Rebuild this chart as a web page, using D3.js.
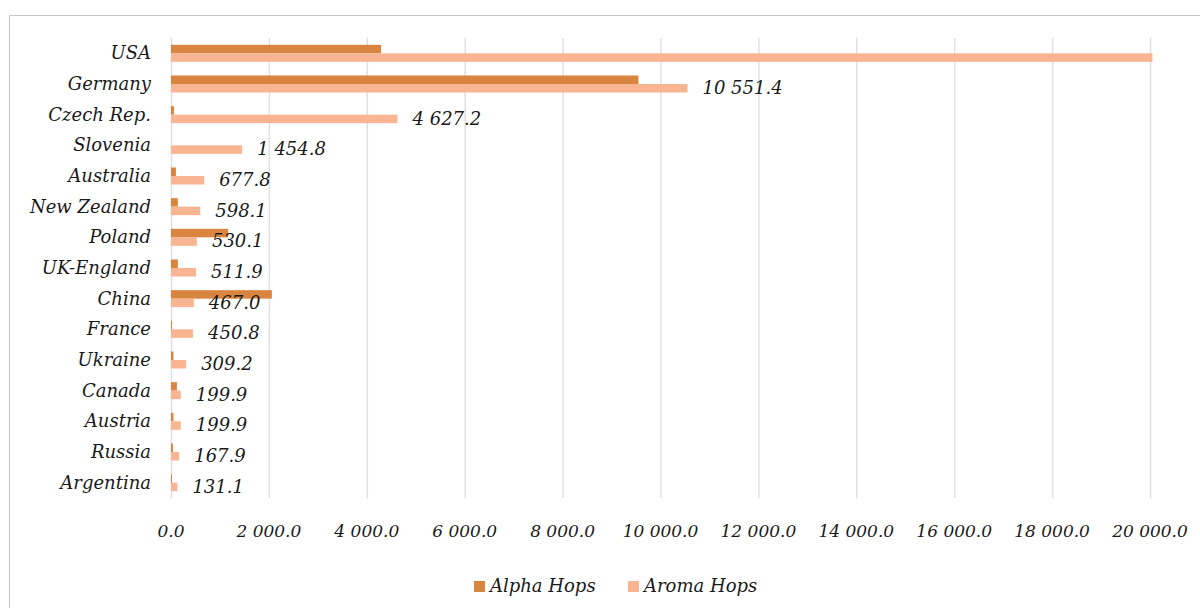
<!DOCTYPE html>
<html>
<head>
<meta charset="utf-8">
<style>
  body { margin: 0; background: #fff; }
  svg text { font-family: "DejaVu Serif", "Liberation Serif", serif; font-style: italic; fill: #1a1a1a; }
</style>
</head>
<body>
<svg id="chart"></svg>
<script src="https://d3js.org/d3.v7.min.js"></script>
<script>

  var countries = ["USA", "Germany", "Czech Rep.", "Slovenia", "Australia", "New Zealand", "Poland",
    "UK-England", "China", "France", "Ukraine", "Canada", "Austria", "Russia", "Argentina"];

  var alphaHops = [4290, 9550, 60, 0, 100, 140, 1170, 140, 2060, 20, 50, 120, 50, 40, 20];
  var aromaHops = [20050, 10551.4, 4627.2, 1454.8, 677.8, 598.1, 530.1, 511.9, 467.0, 450.8,
    309.2, 199.9, 199.9, 167.9, 131.1];

  var xTicks = [0, 2000, 4000, 6000, 8000, 10000, 12000, 14000, 16000, 18000, 20000];
  var seriesNames = ["Alpha Hops", "Aroma Hops"];
  var seriesColors = ["#d9843f", "#f9b591"];

  var width = 1200, height = 608;

  var svg = d3.select("#chart")
    .attr("width", width)
    .attr("height", height);

  // chart frame (top and left edges visible)
  svg.append("line").attr("x1", 9.5).attr("x2", width).attr("y1", 15.5).attr("y2", 15.5)
    .attr("stroke", "#c8c8c8");
  svg.append("line").attr("x1", 9.5).attr("x2", 9.5).attr("y1", 15.5).attr("y2", height)
    .attr("stroke", "#c8c8c8");

  var xScale = d3.scaleLinear()
    .domain([0, 20000])
    .range([171, 1150]);

  var yScale = d3.scaleBand()
    .domain(countries)
    .range([38, 498]);

  var fmt = function(v) {
    return d3.format(",.1f")(v).replace(/,/g, " ");
  };

  // gridlines
  svg.append("g").selectAll("line")
    .data(xTicks)
    .enter().append("line")
    .attr("x1", function(d) { return xScale(d) + 0.5; })
    .attr("x2", function(d) { return xScale(d) + 0.5; })
    .attr("y1", 38)
    .attr("y2", 498)
    .attr("stroke", "#e0e0e0")
    .attr("stroke-width", 1.5);

  // tick labels
  svg.append("g").selectAll("text")
    .data(xTicks)
    .enter().append("text")
    .attr("x", function(d) { return xScale(d); })
    .attr("y", 537)
    .attr("text-anchor", "middle")
    .attr("font-size", 17)
    .text(fmt);

  // category labels
  svg.append("g").selectAll("text")
    .data(countries)
    .enter().append("text")
    .attr("x", 151)
    .attr("y", function(d) { return yScale(d) + yScale.bandwidth() / 2 + 6; })
    .attr("text-anchor", "end")
    .attr("font-size", 18)
    .text(function(d) { return d; });

  var barH = 8.5;
  var mid = function(i) { return yScale(countries[i]) + yScale.bandwidth() / 2; };

  // alpha bars
  svg.append("g").selectAll("rect")
    .data(alphaHops)
    .enter().append("rect")
    .attr("x", xScale(0))
    .attr("y", function(d, i) { return mid(i) - barH; })
    .attr("width", function(d) { return xScale(d) - xScale(0); })
    .attr("height", barH)
    .attr("fill", seriesColors[0]);

  // aroma bars
  svg.append("g").selectAll("rect")
    .data(aromaHops)
    .enter().append("rect")
    .attr("x", xScale(0))
    .attr("y", function(d, i) { return mid(i); })
    .attr("width", function(d) { return xScale(d) - xScale(0); })
    .attr("height", barH)
    .attr("fill", seriesColors[1]);

  // data labels for aroma hops (the one past the axis end is not shown)
  svg.append("g").selectAll("text")
    .data(aromaHops)
    .enter().append("text")
    .attr("x", function(d) { return xScale(d) + 15; })
    .attr("y", function(d, i) { return mid(i) + 10; })
    .attr("font-size", 18)
    .text(function(d) { return d <= 20000 ? fmt(d) : ""; });

  // legend
  var legendX = [474, 628];
  var legend = svg.append("g").selectAll("g")
    .data(seriesNames)
    .enter().append("g")
    .attr("transform", function(d, i) { return "translate(" + legendX[i] + ",581)"; });

  legend.append("rect")
    .attr("width", 11)
    .attr("height", 11)
    .attr("fill", function(d, i) { return seriesColors[i]; });

  legend.append("text")
    .attr("x", 16)
    .attr("y", 11)
    .attr("font-size", 18)
    .text(function(d) { return d; });

</script>
</body>
</html>
